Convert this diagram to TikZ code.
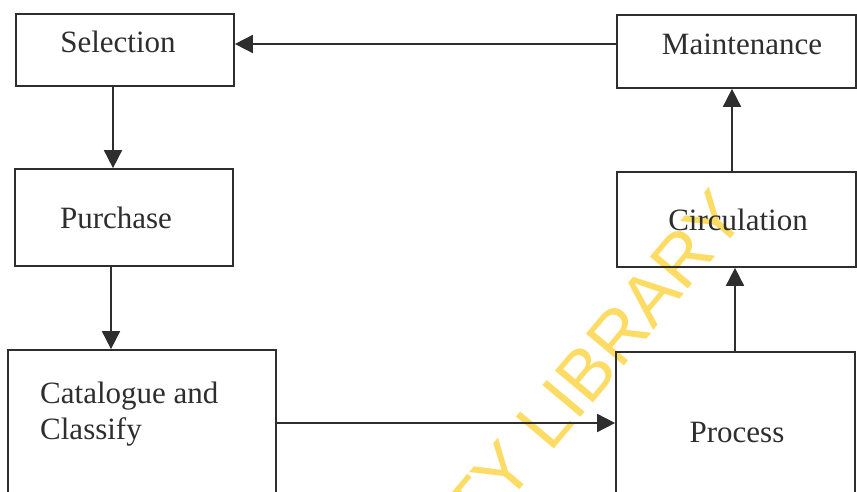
\documentclass[tikz,border=0pt]{standalone}
\usepackage{fontspec}
\setmainfont{Liberation Serif}
\newfontfamily\wmfont{Liberation Sans}
\usetikzlibrary{arrows.meta}
\definecolor{ink}{HTML}{2E2E2E}
\definecolor{wmark}{RGB}{252,220,100}
\tikzset{
  box/.style={draw=ink, line width=1.7pt, inner sep=0pt, rectangle},
  lbl/.style={text=ink, inner sep=0pt, font=\fontsize{31}{36}\selectfont},
  arr/.style={draw=ink, line width=1.7pt, -{Triangle[length=18pt,width=18pt]}},
}
\begin{document}
\begin{tikzpicture}[x=1pt,y=-1pt]
\clip (0,0) rectangle (857,492);
\fill[white] (0,0) rectangle (857,492);

% watermark
\node[text=wmark, font=\wmfont\fontsize{72}{80}\selectfont, rotate=50,
      anchor=base east, inner sep=0pt] (wm) at (748,218) {UNIVERSITY LIBRARY};

% boxes
\node[box, minimum width=218pt, minimum height=72pt] (sel) at (125,50) {};
\node[box, minimum width=239pt, minimum height=73pt] (mnt) at (736.5,51.5) {};
\node[box, minimum width=218pt, minimum height=97pt] (pur) at (124,217.5) {};
\node[box, minimum width=239pt, minimum height=95pt] (cir) at (736.5,219.5) {};
\node[box, minimum width=268pt, minimum height=200pt] (cat) at (142,450) {};
\node[box, minimum width=239pt, minimum height=200pt] (pro) at (735.5,452) {};

% labels
\node[lbl, anchor=base] (tsel) at (118,53) {Selection};
\node[lbl, anchor=base] (tmnt) at (742,55) {Maintenance};
\node[lbl, anchor=base] (tpur) at (116,228) {Purchase};
\node[lbl, anchor=base] (tcir) at (738,230) {Circulation};
\node[lbl, anchor=base west] (tcat1) at (40,403) {Catalogue and};
\node[lbl, anchor=base west] (tcat2) at (40,439) {Classify};
\node[lbl, anchor=base] (tpro) at (737,442) {Process};

% connector columns and rows
\coordinate (cl) at (113,0);
\coordinate (cl2) at (111,0);
\coordinate (cr1) at (732,0);
\coordinate (cr2) at (735,0);
\coordinate (rt) at (0,44);
\coordinate (rb) at (0,423);

% connectors
\draw[arr] (mnt.west |- rt) -- (sel.east |- rt);
\draw[arr] (sel.south -| cl) -- (pur.north -| cl);
\draw[arr] (pur.south -| cl2) -- (cat.north -| cl2);
\draw[arr] (cat.east |- rb) -- (pro.west |- rb);
\draw[arr] (pro.north -| cr2) -- (cir.south -| cr2);
\draw[arr] (cir.north -| cr1) -- (mnt.south -| cr1);
\end{tikzpicture}
\end{document}
